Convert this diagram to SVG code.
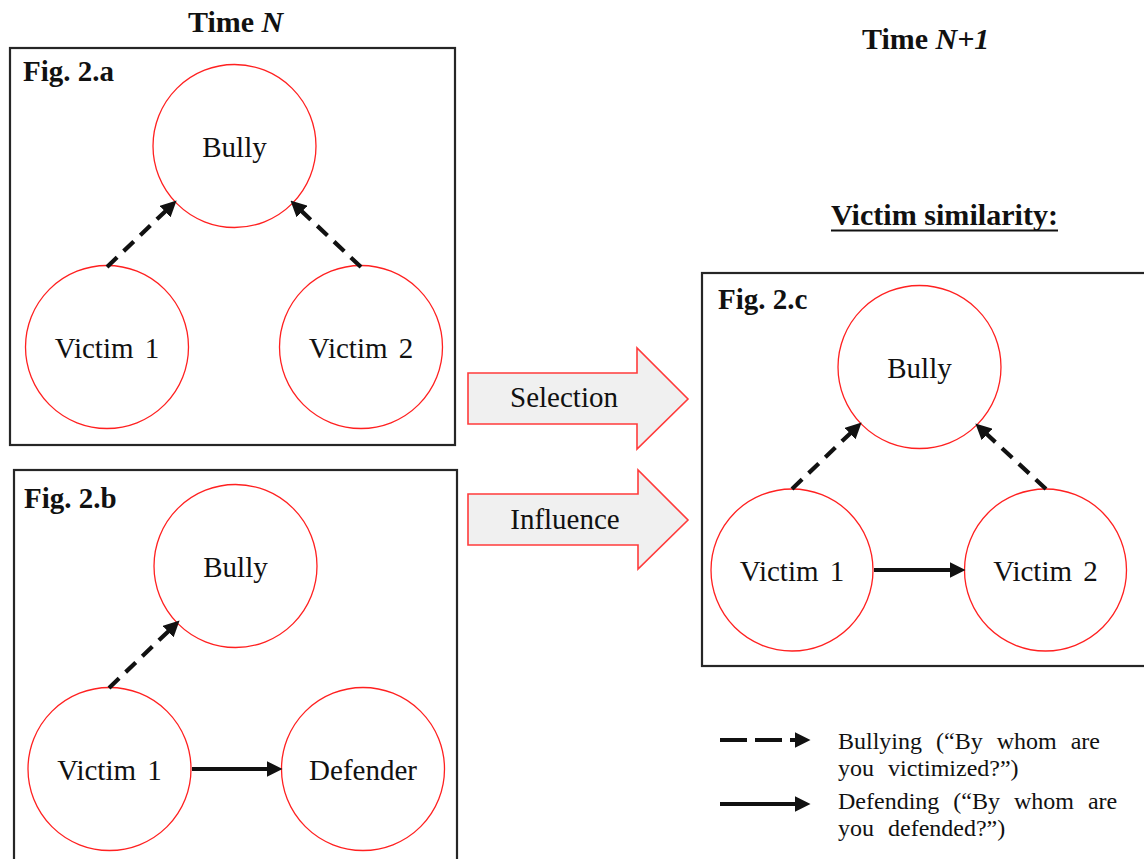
<svg xmlns="http://www.w3.org/2000/svg" width="1144" height="859" viewBox="0 0 1144 859">
<style>
text{font-family:"Liberation Serif","Times New Roman",serif;fill:#111}
.box{fill:none;stroke:#262626;stroke-width:2.2}
.node{fill:#fff;stroke:#ff2020;stroke-width:1.3}
.lbl{font-size:29px;text-anchor:middle;word-spacing:4px}
.fig{font-size:29px;font-weight:bold}
.title{font-size:30px;font-weight:bold}
.dash{stroke:#111;stroke-width:4.2;stroke-dasharray:14 9;fill:none}
.solid{stroke:#111;stroke-width:4.2;fill:none}
.block{fill:#f0f0f0;stroke:#ff3b3b;stroke-width:1.6}
.leg{font-size:24px;word-spacing:8px}
</style>
<defs>
<marker id="ah" markerUnits="userSpaceOnUse" markerWidth="16" markerHeight="16" viewBox="0 0 13 13" refX="2" refY="6.5" orient="auto">
<path d="M0,0 L13,6.5 L0,13 z" fill="#111"/>
</marker>
</defs>

<text class="title" x="188" y="32">Time <tspan font-style="italic">N</tspan></text>
<text class="title" x="862" y="49">Time <tspan font-style="italic">N+1</tspan></text>
<text class="title" x="831" y="225" textLength="227" lengthAdjust="spacingAndGlyphs">Victim similarity:</text>
<line x1="831" y1="230.5" x2="1058" y2="230.5" stroke="#111" stroke-width="2"/>

<g id="fig2a">
<rect class="box" x="10" y="48" width="445" height="397"/>
<text class="fig" x="23" y="81">Fig. 2.a</text>
</g>
<g id="fig2b">
<rect class="box" x="14" y="470" width="443" height="400"/>
<text class="fig" x="24" y="508">Fig. 2.b</text>
</g>
<g id="fig2c">
<rect class="box" x="702" y="273" width="450" height="393"/>
<text class="fig" x="718" y="309">Fig. 2.c</text>
</g>

<g id="a-bully"><circle class="node" cx="234.5" cy="146" r="81.5"/><text class="lbl" x="234.5" y="157">Bully</text></g>
<g id="a-victim1"><circle class="node" cx="107" cy="347" r="81.5"/><text class="lbl" x="107" y="358">Victim 1</text></g>
<g id="a-victim2"><circle class="node" cx="361" cy="347" r="81.5"/><text class="lbl" x="361" y="358">Victim 2</text></g>

<g id="b-bully"><circle class="node" cx="235.5" cy="566" r="81.5"/><text class="lbl" x="235.5" y="577">Bully</text></g>
<g id="b-victim1"><circle class="node" cx="109.5" cy="769" r="81.5"/><text class="lbl" x="109.5" y="780">Victim 1</text></g>
<g id="b-defender"><circle class="node" cx="363" cy="769" r="81.5"/><text class="lbl" x="363" y="780">Defender</text></g>

<g id="c-bully"><circle class="node" cx="919.5" cy="367" r="81.5"/><text class="lbl" x="919.5" y="378">Bully</text></g>
<g id="c-victim1"><circle class="node" cx="792" cy="570" r="81"/><text class="lbl" x="792" y="581">Victim 1</text></g>
<g id="c-victim2"><circle class="node" cx="1045.5" cy="570" r="81"/><text class="lbl" x="1045.5" y="581">Victim 2</text></g>

<g id="selection">
<polygon class="block" points="468,373 637,373 637,348 688,399 637,449 637,424 468,424"/>
<text class="lbl" x="564" y="407" style="word-spacing:0">Selection</text>
</g>
<g id="influence">
<polygon class="block" points="468,494 638,494 638,470 688,520 638,569 638,545 468,545"/>
<text class="lbl" x="565" y="529" style="word-spacing:0">Influence</text>
</g>

<g id="connectors">
<line class="dash" x1="107" y1="267" x2="166.8" y2="209.9" marker-end="url(#ah)"/>
<line class="dash" x1="361" y1="267" x2="300.3" y2="209.9" marker-end="url(#ah)"/>
<line class="dash" x1="109" y1="688" x2="169.8" y2="629.9" marker-end="url(#ah)"/>
<line class="solid" x1="192" y1="769" x2="269" y2="769" marker-end="url(#ah)"/>
<line class="dash" x1="792" y1="489" x2="851.8" y2="431.9" marker-end="url(#ah)"/>
<line class="dash" x1="1046" y1="489" x2="985.3" y2="432.8" marker-end="url(#ah)"/>
<line class="solid" x1="874" y1="570" x2="952" y2="570" marker-end="url(#ah)"/>
</g>

<g id="legend">
<line x1="720" y1="740" x2="797" y2="740" stroke="#111" stroke-width="4.2" stroke-dasharray="27 8" marker-end="url(#ah)"/>
<line x1="720" y1="804" x2="797" y2="804" stroke="#111" stroke-width="4.2" marker-end="url(#ah)"/>
<text class="leg" x="838" y="749">Bullying (“By whom are</text>
<text class="leg" x="838" y="776">you victimized?”)</text>
<text class="leg" x="838" y="809">Defending (“By whom are</text>
<text class="leg" x="838" y="836">you defended?”)</text>
</g>
</svg>
